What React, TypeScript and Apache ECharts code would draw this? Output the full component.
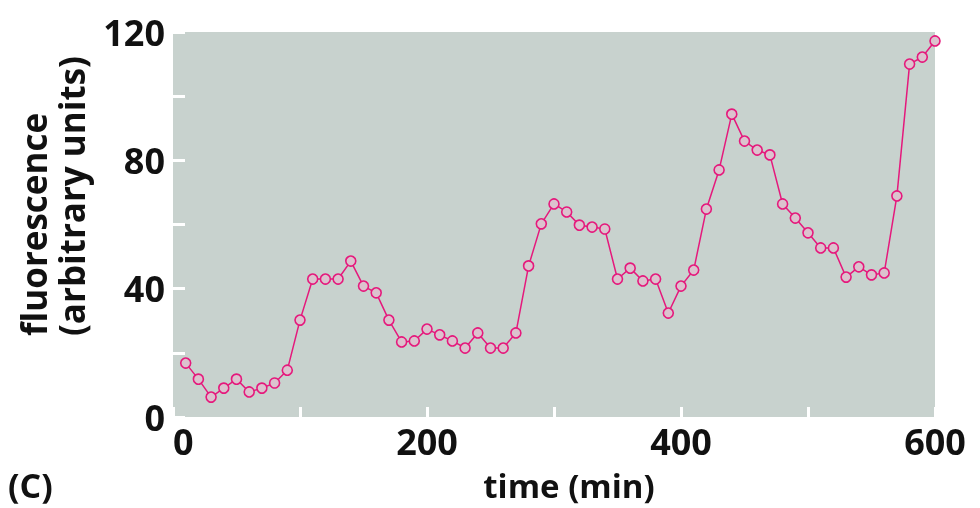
import React, { useEffect, useRef } from "react";
import * as echarts from "echarts";

const times = [10, 20, 30, 40, 50, 60, 70, 80, 90, 100, 110, 120, 130, 140, 150, 160, 170, 180, 190, 200,
  210, 220, 230, 240, 250, 260, 270, 280, 290, 300, 310, 320, 330, 340, 350, 360, 370, 380, 390, 400,
  410, 420, 430, 440, 450, 460, 470, 480, 490, 500, 510, 520, 530, 540, 550, 560, 570, 580, 590, 600];
const fluorescence = [16.8, 11.8, 6.2, 9.0, 11.8, 7.8, 9.0, 10.6, 14.6, 30.2, 43.0, 43.0, 43.0, 48.6, 40.8, 38.7, 30.2, 23.4, 23.7, 27.4,
  25.6, 23.7, 21.5, 26.2, 21.5, 21.5, 26.2, 47.1, 60.2, 66.4, 63.9, 59.8, 59.2, 58.6, 43.0, 46.4, 42.4, 43.0, 32.4, 40.8,
  45.8, 64.8, 77.0, 94.4, 86.0, 83.2, 81.7, 66.4, 62.0, 57.4, 52.7, 52.7, 43.6, 46.8, 44.3, 44.9, 68.9, 110.0, 112.2, 117.2];
const yLabels = [0, 40, 80, 120];
const xLabels = [0, 200, 400, 600];

const FONT = "'Open Sans', 'Noto Sans', sans-serif";
const PINK = "#e5197c";

export default function App() {
  const ref = useRef<HTMLDivElement>(null);
  useEffect(() => {
    if (!ref.current) return;
    const chart = echarts.init(ref.current, null, { renderer: "svg" });
    chart.setOption({
      animation: false,
      grid: {
        left: 173, right: 45, top: 32, bottom: 91,
        show: true, backgroundColor: "#c8d2ce", borderWidth: 0,
      },
      xAxis: {
        type: "value", min: 0, max: 600, interval: 100,
        axisLine: { show: false },
        axisTick: { show: true, inside: true, length: 10, lineStyle: { color: "#ffffff", width: 3 } },
        splitLine: { show: false },
        axisLabel: {
          margin: 6, color: "#111", fontFamily: FONT, fontWeight: 700, fontSize: 36,
          alignMinLabel: "left",
          formatter: (v: number) => (xLabels.indexOf(v) >= 0 ? String(v) : ""),
        },
      },
      yAxis: {
        type: "value", min: 0, max: 120, interval: 20,
        axisLine: { show: false },
        axisTick: { show: true, inside: true, length: 12, lineStyle: { color: "#ffffff", width: 3 } },
        splitLine: { show: false },
        axisLabel: {
          margin: 8, color: "#111", fontFamily: FONT, fontWeight: 700, fontSize: 36,
          formatter: (v: number) => (yLabels.indexOf(v) >= 0 ? String(v) : ""),
        },
      },
      graphic: [
        {
          type: "text", x: 51, y: 336, rotation: Math.PI / 2,
          style: { text: "fluorescence", fontFamily: FONT, fontWeight: 700, fontSize: 35, fill: "#111", textAlign: "left", textVerticalAlign: "bottom" },
        },
        {
          type: "text", x: 89, y: 336, rotation: Math.PI / 2,
          style: { text: "(arbitrary units)", fontFamily: FONT, fontWeight: 700, fontSize: 35, fill: "#111", textAlign: "left", textVerticalAlign: "bottom" },
        },
        {
          type: "text", x: 569, y: 485,
          style: { text: "time (min)", fontFamily: FONT, fontWeight: 700, fontSize: 33, fill: "#111", textAlign: "center", textVerticalAlign: "middle" },
        },
        {
          type: "text", x: 8, y: 485,
          style: { text: "(C)", fontFamily: FONT, fontWeight: 700, fontSize: 34, fill: "#111", textAlign: "left", textVerticalAlign: "middle" },
        },
      ],
      series: [
        {
          type: "line",
          data: times.map((t, i) => [t, fluorescence[i]]),
          symbol: "circle",
          symbolSize: 10,
          lineStyle: { color: PINK, width: 1.5 },
          itemStyle: { color: "#dcc2ce", borderColor: PINK, borderWidth: 1.6 },
        },
      ],
    });
    return () => chart.dispose();
  }, []);
  return <div ref={ref} style={{ position: "fixed", left: 0, top: 0, width: 980, height: 508 }} />;
}
